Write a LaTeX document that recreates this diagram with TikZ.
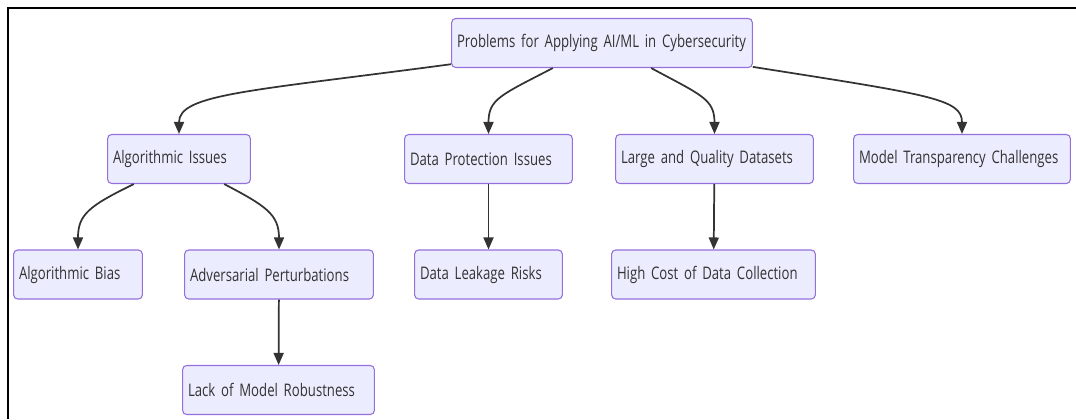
\documentclass[tikz,border=0pt]{standalone}
\usepackage{fontspec}
\setmainfont{Open Sans}[FakeStretch=0.76, WordSpace=0.75]
\usetikzlibrary{arrows.meta}

\definecolor{boxfill}{HTML}{ECECFF}
\definecolor{boxline}{HTML}{9370DB}
\definecolor{ink}{HTML}{333333}

\begin{document}
\begin{tikzpicture}[x=0.75pt, y=-0.75pt, >={Triangle[length=9pt, width=7.5pt]},
    every node/.style={font=\fontsize{13}{15}\selectfont, text=ink}]
    \tikzstyle{topic}=[draw=boxline, fill=boxfill, line width=0.8pt, rounded corners=3pt, inner xsep=4pt, inner ysep=0pt, minimum height=36.75pt, align=left]
    \tikzstyle{link}=[->, draw=ink, line width=1.3pt]

    \useasboundingbox (0,0) rectangle (1076,419);
    % frame
    \draw[line width=1.5pt] (8,419) -- (8,8) -- (1076,8);

    \node[topic, text width=217.5pt] (root) at (602,43) {Problems for Applying AI/ML in Cybersecurity};

    \node[topic, text width=99pt] (algo) at (179,159) {Algorithmic Issues};
    \node[topic, text width=117.75pt] (dataprot) at (488.5,159) {Data Protection Issues};
    \node[topic, text width=140.25pt] (datasets) at (714.5,159) {Large and Quality Datasets};
    \node[topic, text width=154.5pt] (transp) at (962,159) {Model Transparency Challenges};

    \node[topic, text width=88.5pt] (bias) at (78,274.5) {Algorithmic Bias};
    \node[topic, text width=133.5pt] (advers) at (279,274.5) {Adversarial Perturbations};
    \node[topic, text width=135.75pt] (robust) at (278.5,390) {Lack of Model Robustness};
    \node[topic, text width=102.75pt] (leak) at (488.5,274.5) {Data Leakage Risks};
    \node[topic, text width=144.75pt] (cost) at (713.5,274.5) {High Cost of Data Collection};

    \draw[link] (root.188) .. controls +(-202,27) and +(0,-40) .. (algo.north);
    \draw[link] (root.207) .. controls +(-52,27) and +(0,-35) .. (dataprot.north);
    \draw[link] (root.-27) .. controls +(50,27) and +(0,-35) .. (datasets.north);
    \draw[link] (root.-9) .. controls +(178,28) and +(0,-35) .. (transp.north);

    \draw[link] (algo.209) .. controls +(-45,22) and +(0,-35) .. (bias.north);
    \draw[link] (algo.-29) .. controls +(42,22) and +(0,-35) .. (advers.north);
    \draw[link] (advers) -- (robust);
    \draw[link] (dataprot) -- (leak);
    \draw[link] (datasets) -- (cost);
\end{tikzpicture}
\end{document}
